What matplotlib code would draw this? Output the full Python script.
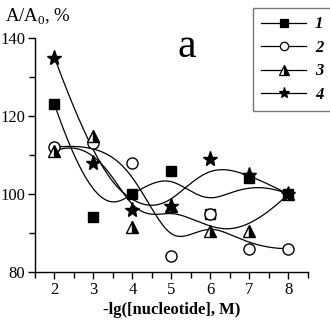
import numpy as np
import matplotlib
matplotlib.use("Agg")
import matplotlib.pyplot as plt

plt.rcParams['font.family'] = ['Liberation Serif', 'DejaVu Serif']
plt.rcParams['mathtext.fontset'] = 'custom'
plt.rcParams['mathtext.rm'] = 'Liberation Serif'

x = [2, 3, 4, 5, 6, 7, 8]
s1 = [123, 94, 100, 106, 95, 104, 100]
s2 = [112, 113, 108, 84, 95, 86, 86]
s3 = [111, 115, 91.5, 97, 90.5, 90.5, 100]
s4 = [135, 108, 96, 97, 109, 105, 100]
labels = ['1', '2', '3', '4']


def bspline(px, py, n=300, k=3):
    px = np.asarray(px, float); py = np.asarray(py, float)
    m = len(px)
    inner = np.arange(1, m - k)
    t = np.concatenate([np.zeros(k + 1), inner, np.full(k + 1, m - k)]).astype(float)
    u = np.linspace(0, m - k, n)
    u[-1] -= 1e-9

    def N(i, p, uu):
        if p == 0:
            return ((t[i] <= uu) & (uu < t[i + 1])).astype(float)
        a = np.zeros_like(uu); b = np.zeros_like(uu)
        if t[i + p] != t[i]:
            a = (uu - t[i]) / (t[i + p] - t[i]) * N(i, p - 1, uu)
        if t[i + p + 1] != t[i + 1]:
            b = (t[i + p + 1] - uu) / (t[i + p + 1] - t[i + 1]) * N(i + 1, p - 1, uu)
        return a + b

    B = np.array([N(i, k, u) for i in range(m)])
    return B.T @ px, B.T @ py


fig = plt.figure(figsize=(3.30, 3.22), dpi=100)
ax = fig.add_axes([0.106, 0.155, 0.827, 0.727])

styles = [
    dict(marker='s', ms=7, mfc='black', mec='black'),
    dict(marker='o', ms=8, mfc='white', mec='black'),
    dict(marker='^', ms=8.5, mfc='black', mec='black', fillstyle='right', markerfacecoloralt='white'),
    dict(marker='*', ms=11, mfc='black', mec='black'),
]
leg_ms = [5.5, 6, 6.5, 8]
handles = []
for ys, st, lab, lms in zip([s1, s2, s3, s4], styles, labels, leg_ms):
    cx, cy = bspline(x, ys)
    ax.plot(cx, cy, color='black', lw=0.9)
    ax.plot(x, ys, ls='none', mew=1.0, zorder=3, **st)
    st2 = dict(st); st2['ms'] = lms
    h, = ax.plot([], [], color='black', lw=0.9, mew=0.9, **st2)
    handles.append(h)

ax.set_xlim(1.5, 8.5)
ax.set_ylim(80, 140)
ax.set_xticks([2, 3, 4, 5, 6, 7, 8])
ax.set_xticks(np.arange(1.5, 8.6, 1.0), minor=True)
ax.set_yticks([80, 100, 120, 140])
ax.set_yticks([90, 110, 130], minor=True)
for s in ['top', 'right']:
    ax.spines[s].set_visible(False)
for s in ['left', 'bottom']:
    ax.spines[s].set_linewidth(1.0)
ax.tick_params(which='major', length=5, width=1, labelsize=12, pad=2)
ax.tick_params(which='minor', length=4, width=1)

ax.set_xlabel('-lg([nucleotide], M)', fontsize=12, fontweight='bold', labelpad=3)
fig.text(0.015, 0.98, 'A/A$_0$, %', fontsize=13.5, va='top', ha='left')
fig.text(0.565, 0.855, 'a', fontsize=30, ha='center', va='center')

leg = fig.legend(handles, labels, loc='upper left', bbox_to_anchor=(0.767, 0.975),
                 borderaxespad=0, frameon=True, fancybox=False, handlelength=2.7,
                 handletextpad=0.5, labelspacing=0.45, borderpad=0.5,
                 prop=dict(size=12, style='italic', weight='bold'))
leg.get_frame().set_edgecolor('#555555')
leg.get_frame().set_linewidth(1.0)

fig.savefig('out.png', dpi=100)
